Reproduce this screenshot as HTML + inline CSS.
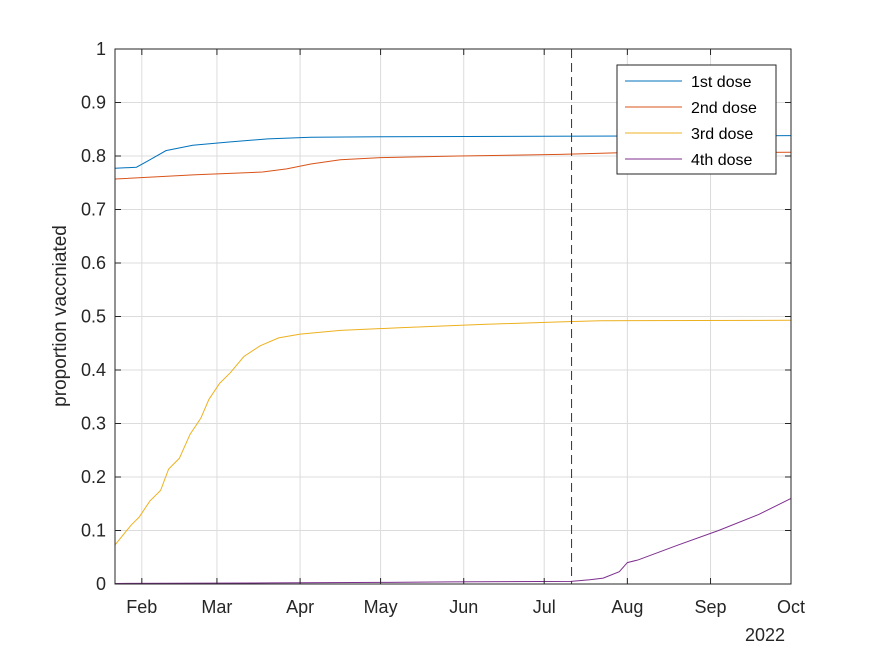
<!DOCTYPE html>
<html><head><meta charset="utf-8"><style>
body{margin:0;background:#fff;}
svg{display:block;font-family:"Liberation Sans",Arial,sans-serif;}
</style></head><body>
<svg id="chart" width="875" height="656">
<rect width="875" height="656" fill="#fff"/>
<g id="grid"></g><g id="series"></g><g id="axes"></g><g id="legend"></g>
</svg>
<script>
// days since Jan 22 2022
const dose1Days=[0,8,12,19,29,42,57,73,100,160,252];
const dose1Vals=[0.777,0.779,0.79,0.81,0.82,0.826,0.832,0.835,0.836,0.837,0.838];
const dose2Days=[0,30,55,64,73,84,99,128,166,188,252];
const dose2Vals=[0.757,0.765,0.770,0.776,0.785,0.793,0.797,0.800,0.803,0.806,0.807];
const dose3Days=[0,6,9,13,17,20,24,28,32,35,39,43,48,54,61,69,84,106,136,166,181,252];
const dose3Vals=[0.073,0.11,0.125,0.155,0.175,0.215,0.235,0.28,0.31,0.345,0.375,0.395,0.425,0.445,0.46,0.467,0.474,0.479,0.485,0.49,0.492,0.493];
const dose4Days=[0,58,102,125,170,177,182,188,191,195,210,225,240,252];
const dose4Vals=[0.001,0.002,0.003,0.004,0.005,0.008,0.011,0.023,0.04,0.045,0.073,0.1,0.13,0.16];
const monthLabels=["Feb","Mar","Apr","May","Jun","Jul","Aug","Sep","Oct"];
const monthDays=[10,38,69,99,130,160,191,222,252];
const yTicks=[0,0.1,0.2,0.3,0.4,0.5,0.6,0.7,0.8,0.9,1];
const cutoffDay=170.2;
const seriesNames=["1st dose","2nd dose","3rd dose","4th dose"];
const colors=["#0072BD","#D95319","#EDB120","#7E2F8E"];

const L=115,R=791,T=49,B=584,NS="http://www.w3.org/2000/svg";
const x=d=>L+d*(R-L)/252;
const y=v=>B-v*(B-T);
function mk(tag,attrs,parent){const e=document.createElementNS(NS,tag);for(const k in attrs)e.setAttribute(k,attrs[k]);document.getElementById(parent).appendChild(e);return e;}
yTicks.forEach((t,i)=>{
 const g=mk("line",{x1:L,x2:R,y1:y(t),y2:y(t),stroke:"#dcdcdc","stroke-width":1},"grid");
 
 
 const lb=mk("text",{x:L-9,y:y(t)+6,"text-anchor":"end","font-size":18,fill:"#262626"},"axes");lb.textContent=t;
 
 
 mk("line",{x1:L,x2:L+6,y1:y(t),y2:y(t),stroke:"#262626"},"axes");
 mk("line",{x1:R,x2:R-6,y1:y(t),y2:y(t),stroke:"#262626"},"axes");
});
monthDays.forEach((d,i)=>{
 const g=mk("line",{x1:x(d),x2:x(d),y1:T,y2:B,stroke:"#dcdcdc"},"grid");
 
 
 const lb=mk("text",{x:x(d),y:B+29,"text-anchor":"middle","font-size":18,fill:"#262626"},"axes");lb.textContent=monthLabels[i];
 
 
 mk("line",{x1:x(d),x2:x(d),y1:B,y2:B-6,stroke:"#262626"},"axes");
 mk("line",{x1:x(d),x2:x(d),y1:T,y2:T+6,stroke:"#262626"},"axes");
});
const all=[[dose1Days,dose1Vals],[dose2Days,dose2Vals],[dose3Days,dose3Vals],[dose4Days,dose4Vals]];
all.forEach((s,i)=>{
 const p=mk("polyline",{points:s[0].map((d,j)=>x(d)+","+y(s[1][j])).join(" "),fill:"none",stroke:colors[i],"stroke-width":1},"series");
 
 
});
const cl=mk("line",{x1:x(cutoffDay),x2:x(cutoffDay),y1:T,y2:B,stroke:"#333","stroke-dasharray":"9,5"},"series");


const box=mk("rect",{x:L,y:T,width:R-L,height:B-T,fill:"none",stroke:"#262626"},"axes");


const yr=mk("text",{x:765,y:641,"text-anchor":"middle","font-size":18,fill:"#262626"},"axes");yr.textContent="2022";


const yl=mk("text",{x:0,y:0,"text-anchor":"middle","font-size":19,fill:"#262626",transform:"translate(66,316) rotate(-90)"},"axes");yl.textContent="proportion vaccniated";


const lg=mk("rect",{x:617,y:65,width:159,height:109,fill:"#fff",stroke:"#262626"},"legend");


seriesNames.forEach((n,i)=>{
 const yy=81+i*26;
 mk("line",{x1:625,x2:682,y1:yy,y2:yy,stroke:colors[i]},"legend");
 const t=mk("text",{x:691,y:yy+6,"font-size":16,fill:"#000"},"legend");t.textContent=n;
 
 
});
</script>
</body></html>
